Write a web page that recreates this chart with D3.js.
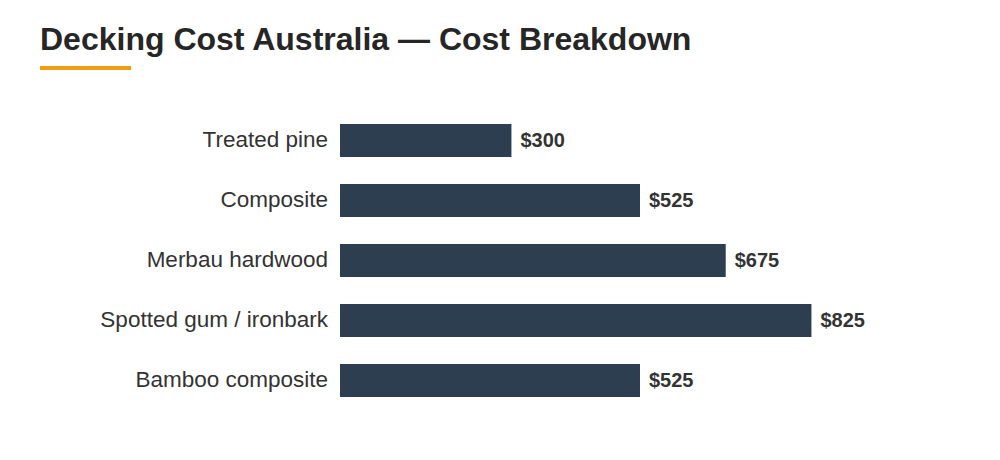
<!DOCTYPE html>
<html>
<head>
<meta charset="utf-8">
<script src="https://cdn.jsdelivr.net/npm/d3@7"></script>
<style>
  body { margin: 0; background: #fff; }
  svg { display: block; font-family: "Liberation Sans", Arial, sans-serif; }
</style>
</head>
<body>
<div id="chart"></div>
<script>
// Data
var categories = ["Treated pine", "Composite", "Merbau hardwood", "Spotted gum / ironbark", "Bamboo composite"];
var costs = [300, 525, 675, 825, 525];
var valueLabels = ["$300", "$525", "$675", "$825", "$525"];

var data = categories.map(function(c, i) {
    return { name: c, value: costs[i], label: valueLabels[i] };
});

var width = 1000, height = 460;

var svg = d3.select("#chart").append("svg")
    .attr("width", width)
    .attr("height", height);

// Title + accent line
svg.append("text")
    .attr("x", 40)
    .attr("y", 50)
    .style("font-size", "32px")
    .style("font-weight", "bold")
    .style("fill", "#262626")
    .text("Decking Cost Australia \u2014 Cost Breakdown");

svg.append("rect")
    .attr("x", 40)
    .attr("y", 66)
    .attr("width", 91)
    .attr("height", 4)
    .style("fill", "#f39c12");

// Scales
var x = d3.scaleLinear()
    .domain([0, 1050])
    .range([340, 940]);

var y = d3.scaleBand()
    .domain(categories)
    .range([97, 424])
    .padding(0.45);

var g = svg.append("g");

g.selectAll("rect.bar")
    .data(data)
    .enter()
    .append("rect")
        .attr("class", "bar")
        .attr("x", x(0))
        .attr("y", function(d) { return y(d.name); })
        .attr("width", function(d) { return x(d.value) - x(0); })
        .attr("height", y.bandwidth())
        .style("fill", "#2c3e50");

// category labels
g.selectAll("text.cat")
    .data(data)
    .enter()
    .append("text")
        .attr("class", "cat")
        .attr("x", x(0) - 12)
        .attr("y", function(d) { return y(d.name) + y.bandwidth() / 2; })
        .attr("dy", "0.28em")
        .attr("text-anchor", "end")
        .style("font-size", "22.5px")
        .style("fill", "#333")
        .text(function(d) { return d.name; });

// value labels
g.selectAll("text.val")
    .data(data)
    .enter()
    .append("text")
        .attr("class", "val")
        .attr("x", function(d) { return x(d.value) + 9; })
        .attr("y", function(d) { return y(d.name) + y.bandwidth() / 2; })
        .attr("dy", "0.3em")
        .style("font-size", "20px")
        .style("font-weight", "bold")
        .style("fill", "#333")
        .text(function(d) { return d.label; });
</script>
</body>
</html>
